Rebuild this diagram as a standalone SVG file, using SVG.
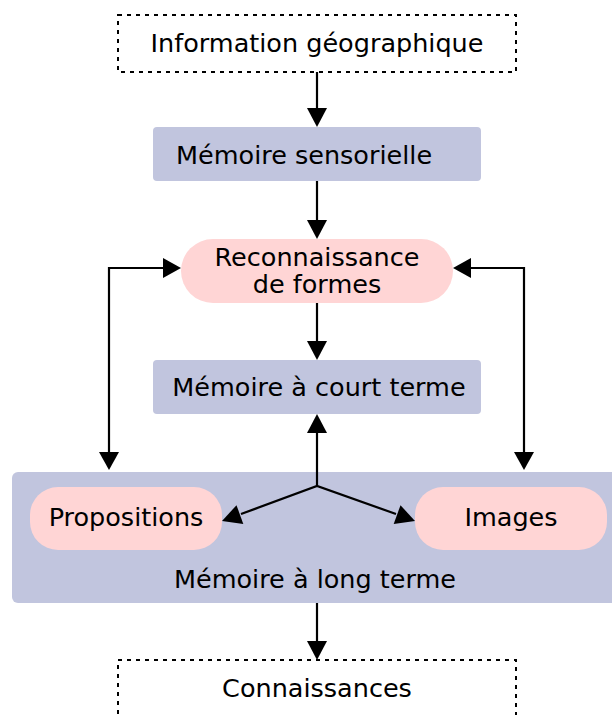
<svg xmlns="http://www.w3.org/2000/svg" width="612" height="715" viewBox="0 0 612 715">
<style>
text{font-family:"DejaVu Sans",sans-serif;font-size:25.5px;fill:#000}
.c{text-anchor:middle}
.blue{fill:#c1c5de}
.pink{fill:#ffd5d5}
.dash{fill:none;stroke:#000;stroke-width:2;stroke-dasharray:4,5}
.ln{fill:none;stroke:#000;stroke-width:2.2}
</style>
<rect width="612" height="715" fill="#fff"/>
<g id="info">
<rect class="dash" x="118" y="15" width="398" height="57"/>
<text class="c" x="317" y="52">Information géographique</text>
</g>
<g id="sensorielle">
<rect class="blue" x="153" y="127" width="328" height="54" rx="4"/>
<text x="176" y="164">Mémoire sensorielle</text>
</g>
<g id="reconnaissance">
<rect class="pink" x="181" y="239" width="272" height="64" rx="32"/>
<text class="c" x="317" y="266">Reconnaissance</text>
<text class="c" x="317" y="293">de formes</text>
</g>
<g id="court">
<rect class="blue" x="153" y="360" width="328" height="54" rx="4"/>
<text class="c" x="319" y="396">Mémoire à court terme</text>
</g>
<g id="long">
<rect class="blue" x="12" y="472" width="610" height="131" rx="6"/>
<text class="c" x="315" y="588">Mémoire à long terme</text>
</g>
<g id="propositions">
<rect class="pink" x="30" y="487" width="192" height="63" rx="28"/>
<text class="c" x="126" y="526">Propositions</text>
</g>
<g id="images">
<rect class="pink" x="415" y="487" width="192" height="63" rx="28"/>
<text class="c" x="511" y="526">Images</text>
</g>
<g id="connaissances">
<rect class="dash" x="118" y="660" width="398" height="70"/>
<text class="c" x="317" y="697">Connaissances</text>
</g>
<g id="connectors">
<path class="ln" d="M317 72V110"/>
<polygon points="307,108 327,108 317,127"/>
<path class="ln" d="M317 181V222"/>
<polygon points="307,220 327,220 317,239"/>
<path class="ln" d="M317 303V343"/>
<polygon points="307,341 327,341 317,360"/>
<path class="ln" d="M317 486V432"/>
<polygon points="307,433 327,433 317,414"/>
<path class="ln" d="M241 514L317 486L396 514"/>
<polygon points="222,521 236.5,505.2 243.3,524"/>
<polygon points="415,521 393.7,524 400.5,505.2"/>
<path class="ln" d="M317 603V643"/>
<polygon points="307,641 327,641 317,660"/>
<path class="ln" d="M164 268H109V453"/>
<polygon points="163,258 163,278 181,268"/>
<polygon points="99,452 119,452 109,470"/>
<path class="ln" d="M471 268H524V453"/>
<polygon points="471,258 471,278 453,268"/>
<polygon points="514,452 534,452 524,470"/>
</g>
</svg>
